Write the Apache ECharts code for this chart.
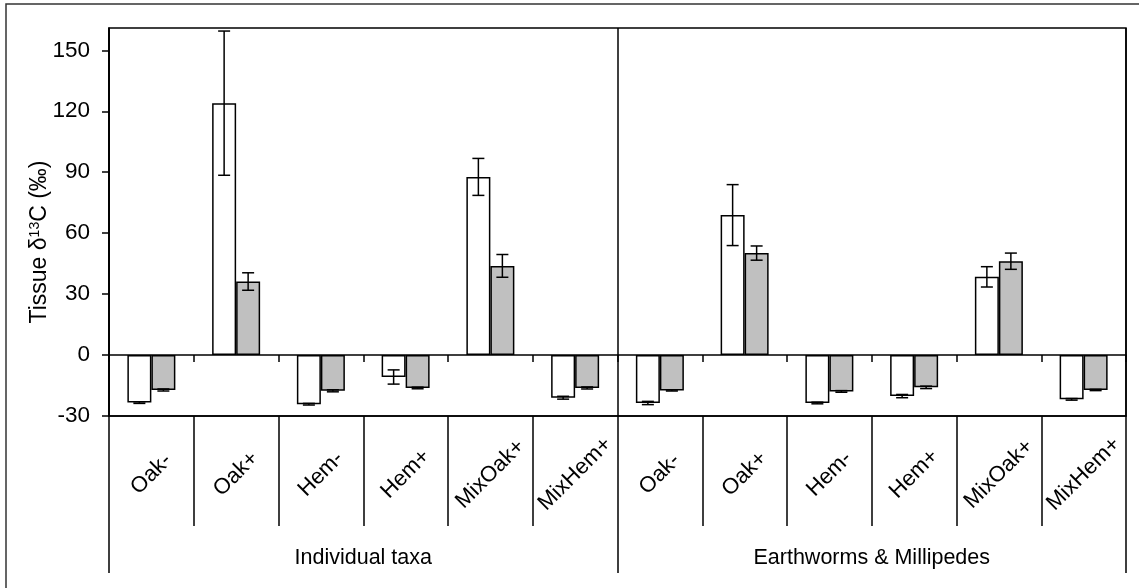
<!DOCTYPE html>
<html>
<head>
<meta charset="utf-8">
<script src="https://cdn.jsdelivr.net/npm/echarts@6/dist/echarts.min.js"></script>
<style>
  html, body { margin: 0; padding: 0; background: #fff; }
  #chart { width: 1139px; height: 588px; }
</style>
</head>
<body>
<div id="chart"></div>
<script>
// Treatments within each animal group
const taxa = ['Oak-', 'Oak+', 'Hem-', 'Hem+', 'MixOak+', 'MixHem+'];
const groups = ['Individual taxa', 'Earthworms & Millipedes'];

// Tissue δ13C means and standard errors (‰), first bar of each pair (white)
const whiteMean = [-23.4, 124.0, -24.2, -10.8, 87.7, -21.0, -23.6, 68.9, -23.6, -20.2, 38.5, -21.8];
const whiteErr  = [0.4, 35.5, 0.4, 3.5, 9.1, 0.7, 0.8, 15.0, 0.4, 0.8, 5.0, 0.4];
// second bar of each pair (grey)
const greyMean  = [-17.2, 36.2, -17.6, -16.2, 43.9, -16.2, -17.4, 50.2, -17.9, -15.9, 46.2, -17.2];
const greyErr   = [0.5, 4.3, 0.5, 0.4, 5.6, 0.5, 0.3, 3.5, 0.4, 0.6, 4.0, 0.3];

// Y-axis tick values
const yTicks = [-30, 0, 30, 60, 90, 120, 150];

const categories = groups.flatMap(() => taxa);

const FONT = "'Liberation Sans', Arial, sans-serif";
const BAR_W = 24;

function errorSeries(mean, err, offset) {
  return {
    type: 'custom',
    xAxisIndex: 0,
    z: 5,
    data: mean.map((m, i) => [i, m, err[i]]),
    encode: { x: 0, y: 1 },
    renderItem: function (params, api) {
      const idx = api.value(0);
      const m = api.value(1);
      const e = api.value(2);
      const x = api.coord([idx, m])[0] + offset;
      const yHi = api.coord([idx, m + e])[1];
      const yLo = api.coord([idx, m - e])[1];
      const cap = 6;
      const style = { stroke: '#000', lineWidth: 1.5 };
      return {
        type: 'group',
        children: [
          { type: 'line', shape: { x1: x, y1: yHi, x2: x, y2: yLo }, style: style },
          { type: 'line', shape: { x1: x - cap, y1: yHi, x2: x + cap, y2: yHi }, style: style },
          { type: 'line', shape: { x1: x - cap, y1: yLo, x2: x + cap, y2: yLo }, style: style }
        ]
      };
    }
  };
}

const chart = echarts.init(document.getElementById('chart'), null, { renderer: 'canvas' });

chart.setOption({
  animation: false,
  backgroundColor: '#fff',
  textStyle: { fontFamily: FONT },
  grid: {
    left: 109, right: 13, top: 28, bottom: 172,
    containLabel: false,
    outerBoundsMode: 'none',
    show: true,
    borderColor: '#000',
    borderWidth: 1.5,
    backgroundColor: 'transparent'
  },
  graphic: [
    {
      type: 'rect',
      shape: { x: 6, y: 4, width: 1200, height: 700 },
      style: { fill: 'none', stroke: '#333', lineWidth: 1.5 },
      silent: true,
      z: -10
    }
  ],
  xAxis: [
    {
      // treatment labels, separated by long ticks
      type: 'category',
      data: categories,
      position: 'bottom',
      axisLine: { onZero: false, show: true, lineStyle: { color: '#000', width: 1.5 } },
      axisTick: { show: true, length: 110, inside: false, alignWithLabel: false, interval: 0,
                  lineStyle: { color: '#000', width: 1.5 } },
      axisLabel: {
        interval: 0, rotate: 45, margin: 58,
        align: 'center', verticalAlign: 'middle',
        color: '#000', fontSize: 22, fontFamily: FONT
      },
      splitLine: { show: false }
    },
    {
      // animal group labels and dividers
      type: 'category',
      data: groups,
      position: 'bottom',
      axisLine: { onZero: false, show: false },
      axisTick: { show: true, length: 157, inside: false, alignWithLabel: false, interval: 0,
                  lineStyle: { color: '#000', width: 1.5 } },
      axisLabel: { interval: 0, margin: 131, color: '#000', fontSize: 21.5, fontFamily: FONT },
      splitLine: { show: true, interval: 0, lineStyle: { color: '#000', width: 1.5 } }
    },
    {
      // zero baseline with short downward ticks
      type: 'category',
      data: categories,
      position: 'bottom',
      axisLine: { onZero: true, onZeroAxisIndex: 0, show: true, lineStyle: { color: '#000', width: 1.5 } },
      axisTick: { show: true, length: 7, inside: false, alignWithLabel: false, interval: 0,
                  lineStyle: { color: '#000', width: 1.5 } },
      axisLabel: { show: false },
      splitLine: { show: false }
    }
  ],
  yAxis: {
    type: 'value',
    min: -30,
    max: 161,
    interval: 30,
    name: 'Tissue δ{sup|13}C (‰)',
    nameLocation: 'middle',
    nameRotate: 90,
    nameGap: 57,
    nameMoveOverlap: false,
    nameTextStyle: {
      color: '#000', fontSize: 23, fontFamily: FONT,
      padding: [0, 40, 0, 0],
      rich: {
        sup: { fontSize: 14, fontFamily: FONT, color: '#000', verticalAlign: 'top', padding: [0, 0, 10, 0] }
      }
    },
    axisLine: { show: true, lineStyle: { color: '#000', width: 1.5 } },
    axisTick: { show: true, length: 7, customValues: yTicks, lineStyle: { color: '#000', width: 1.5 } },
    axisLabel: { customValues: yTicks, margin: 19, color: '#000', fontSize: 22.5, fontFamily: FONT },
    splitLine: { show: false }
  },
  series: [
    {
      type: 'bar',
      xAxisIndex: 0,
      data: whiteMean,
      barWidth: BAR_W,
      barGap: '0%',
      itemStyle: { color: '#ffffff', borderColor: '#000', borderWidth: 1.5 },
      z: 3
    },
    {
      type: 'bar',
      xAxisIndex: 0,
      data: greyMean,
      barWidth: BAR_W,
      barGap: '0%',
      itemStyle: { color: '#c0c0c0', borderColor: '#000', borderWidth: 1.5 },
      z: 3
    },
    errorSeries(whiteMean, whiteErr, -BAR_W / 2),
    errorSeries(greyMean, greyErr, BAR_W / 2)
  ]
});
</script>
</body>
</html>
